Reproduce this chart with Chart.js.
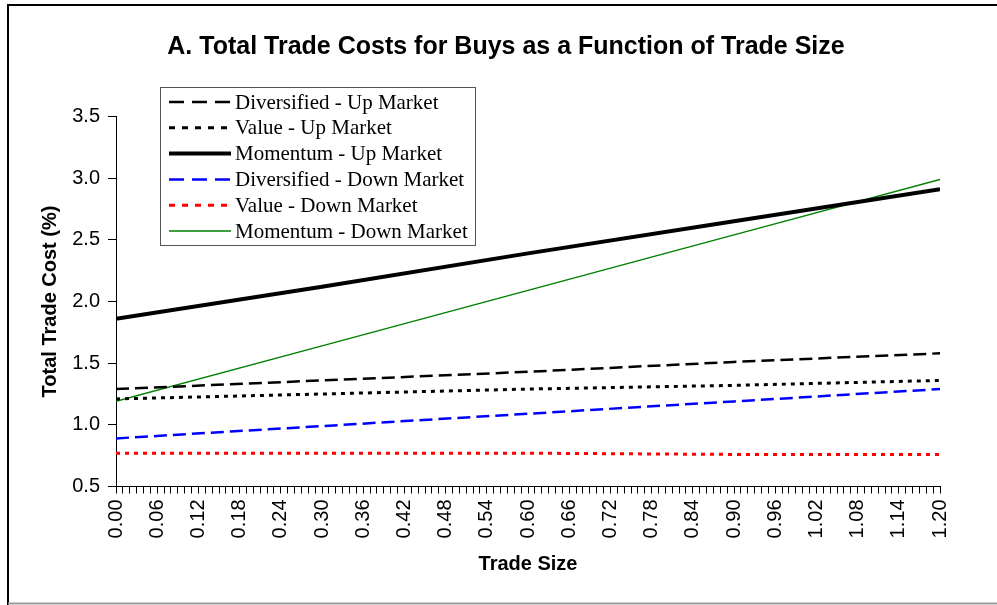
<!DOCTYPE html>
<html>
<head>
<meta charset="utf-8">
<script src="https://cdn.jsdelivr.net/npm/chart.js@4/dist/chart.umd.min.js"></script>
<style>
  html, body { margin: 0; padding: 0; background: #fff; }
  #wrap { width: 997px; height: 605px; position: relative; }
</style>
</head>
<body>
<div id="wrap"><canvas id="costChart" width="997" height="605"></canvas></div>
<script>
// trade size points (the lines are close to straight)
const tradeSize = [0.00, 0.30, 0.60, 0.90, 1.20];
const diversifiedUp = [1.29, 1.36, 1.43, 1.51, 1.58];
const valueUp = [1.21, 1.25, 1.29, 1.32, 1.36];
const momentumUp = [1.86, 2.12, 2.39, 2.65, 2.91];
const diversifiedDown = [0.89, 0.99, 1.09, 1.19, 1.29];
const valueDown = [0.77, 0.77, 0.77, 0.76, 0.76];
const momentumDown = [1.19, 1.64, 2.09, 2.54, 2.99];

const yTicks = [0.5, 1.0, 1.5, 2.0, 2.5, 3.0, 3.5];

const seriesNames = [
  'Diversified - Up Market',
  'Value - Up Market',
  'Momentum - Up Market',
  'Diversified - Down Market',
  'Value - Down Market',
  'Momentum - Down Market'
];

function pts(vals) {
  return vals.map((v, i) => ({ x: tradeSize[i], y: v }));
}

const datasets = [
  { label: seriesNames[0], data: pts(diversifiedUp), borderColor: '#000', borderWidth: 2.5, borderDash: [13, 6], legendDash: [15, 8] },
  { label: seriesNames[1], data: pts(valueUp), borderColor: '#000', borderWidth: 3, borderDash: [4, 5], legendDash: [6, 7] },
  { label: seriesNames[2], data: pts(momentumUp), borderColor: '#000', borderWidth: 4 },
  { label: seriesNames[3], data: pts(diversifiedDown), borderColor: '#0000ff', borderWidth: 2.5, borderDash: [13, 6], legendDash: [15, 8] },
  { label: seriesNames[4], data: pts(valueDown), borderColor: '#ff0000', borderWidth: 3, borderDash: [4, 5], legendDash: [6, 7] },
  { label: seriesNames[5], data: pts(momentumDown), borderColor: '#008000', borderWidth: 1.5 }
].map(d => Object.assign({ pointRadius: 0, fill: false, tension: 0 }, d));

// frame, title and the boxed legend inside the plot
const decor = {
  id: 'decor',
  afterDraw(chart) {
    const c = chart.ctx;
    c.save();
    c.strokeStyle = '#000';
    c.lineWidth = 2;
    c.beginPath();
    c.moveTo(8, 605); c.lineTo(8, 5); c.lineTo(997, 5);
    c.stroke();
    c.strokeStyle = '#999';
    c.beginPath();
    c.moveTo(8, 603.5); c.lineTo(997, 603.5);
    c.stroke();

    c.fillStyle = '#000';
    c.font = 'bold 25px "Liberation Sans", Arial, sans-serif';
    c.textAlign = 'center';
    c.textBaseline = 'middle';
    c.fillText('A. Total Trade Costs for Buys as a Function of Trade Size', 506, 47);

    // legend box
    const bx = 160, by = 87, bw = 315, bh = 158;
    c.fillStyle = '#fff';
    c.fillRect(bx, by, bw, bh);
    c.strokeStyle = '#555';
    c.lineWidth = 1;
    c.strokeRect(bx + 0.5, by + 0.5, bw, bh);
    c.font = '21px "Liberation Serif", "Times New Roman", serif';
    c.textAlign = 'left';
    chart.data.datasets.forEach((ds, i) => {
      const yy = by + 15 + i * 25.8;
      c.strokeStyle = ds.borderColor;
      c.lineWidth = ds.borderWidth;
      c.setLineDash(ds.legendDash || []);
      c.beginPath();
      c.moveTo(bx + 9, yy); c.lineTo(bx + 71, yy);
      c.stroke();
      c.setLineDash([]);
      c.fillStyle = '#000';
      c.fillText(ds.label, bx + 75, yy + 1);
    });
    c.restore();
  }
};

const tickFont = { family: '"Liberation Sans", Arial, sans-serif', size: 20 };
const titleFont = { family: '"Liberation Sans", Arial, sans-serif', size: 20, weight: 'bold' };

new Chart(document.getElementById('costChart'), {
  type: 'line',
  data: { datasets: datasets },
  options: {
    responsive: false,
    animation: false,
    layout: { padding: { top: 116.5, left: 0, right: 57, bottom: 0 } },
    plugins: { legend: { display: false }, title: { display: false }, tooltip: { enabled: false } },
    scales: {
      x: {
        type: 'linear',
        min: 0, max: 1.2,
        afterFit: s => { s.height = 118.5; },
        grid: { display: true, drawOnChartArea: false, drawTicks: true, tickLength: 7, color: '#000' },
        border: { display: true, color: '#000', width: 1 },
        ticks: {
          stepSize: 0.01, maxTicksLimit: 200, autoSkip: false,
          minRotation: 90, maxRotation: 90, color: '#000', font: tickFont, padding: 6,
          callback: v => (Math.round(v * 100) % 6 === 0 ? v.toFixed(2) : '')
        },
        title: { display: true, text: 'Trade Size', color: '#000', font: titleFont, padding: { top: 0, bottom: 29 } }
      },
      y: {
        min: 0.5, max: 3.5,
        afterBuildTicks: s => { s.ticks = yTicks.map(v => ({ value: v })); },
        afterFit: s => { s.width = 116; },
        grid: { display: true, drawOnChartArea: false, drawTicks: true, tickLength: 8, color: '#000' },
        border: { display: true, color: '#000', width: 1 },
        ticks: { color: '#000', font: tickFont, padding: 8, callback: v => v.toFixed(1) },
        title: { display: true, text: 'Total Trade Cost (%)', color: '#000', font: titleFont, padding: { top: 38, bottom: 0 } }
      }
    }
  },
  plugins: [decor]
});
</script>
</body>
</html>
